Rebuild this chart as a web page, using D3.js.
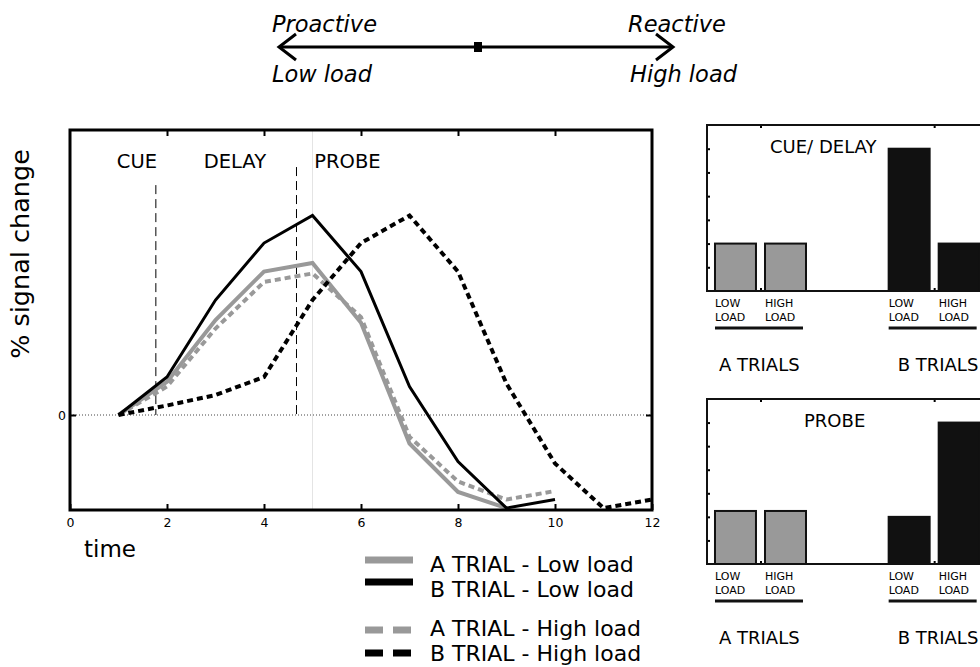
<!DOCTYPE html>
<meta charset="utf-8">
<style>
body { margin: 0; background: #fff; }
text { font-family: "DejaVu Sans", sans-serif; fill: #000; }
</style>
<body>
<script src="https://cdn.jsdelivr.net/npm/d3@7"></script>
<script>

// time course data (% signal change), one value per time point starting at t=1
var aLow  = [0, 0.35, 1.00, 1.51, 1.60, 0.97, -0.30, -0.81, -0.98];
var bLow  = [0, 0.40, 1.21, 1.81, 2.10, 1.51, 0.30, -0.49, -0.98, -0.89];
var aHigh = [0, 0.30, 0.91, 1.40, 1.49, 1.03, -0.23, -0.70, -0.89, -0.80];
var bHigh = [0, 0.10, 0.21, 0.40, 1.21, 1.81, 2.10, 1.51, 0.33, -0.51, -0.98, -0.89];

// phase boundaries (time) and how high the dashed marker goes
var phaseNames = ["CUE", "DELAY", "PROBE"];
var phaseX = [1.38, 3.4, 5.72];
var boundaries = [{t: 1.77, top: 2.42}, {t: 4.67, top: 2.61}];

var xTicks = [0, 2, 4, 6, 8, 10, 12];

// bar panels
var barLabels = ["A low", "A high", "B low", "B high"];
var cueDelay = [2, 2, 6, 2];
var probe    = [2.25, 2.25, 2, 6];

var gray = "#999";

var svg = d3.select("body").append("svg")
    .attr("width", 980)
    .attr("height", 667);

// ---------- top arrow ----------
var header = svg.append("g");
header.append("line").attr("x1", 279).attr("x2", 672).attr("y1", 47).attr("y2", 47)
    .attr("stroke", "#000").attr("stroke-width", 3);
header.append("path").attr("d", "M296,34 L279,47 L296,60").attr("fill", "none")
    .attr("stroke", "#000").attr("stroke-width", 3);
header.append("path").attr("d", "M656,34 L673,47 L656,60").attr("fill", "none")
    .attr("stroke", "#000").attr("stroke-width", 3);
header.append("rect").attr("x", 474).attr("y", 42).attr("width", 8).attr("height", 10).attr("fill", "#000");
[["Proactive", 272, 32], ["Low load", 272, 82], ["Reactive", 628, 32], ["High load", 630, 82]].forEach(function(d) {
  header.append("text").attr("x", d[1]).attr("y", d[2]).style("font-size", "22.5px")
      .style("font-style", "italic").text(d[0]);
});

// ---------- main line chart ----------
var x = d3.scaleLinear().domain([0, 12]).range([70, 652]);
var y = d3.scaleLinear().domain([-1, 3]).range([510, 130]);

var main = svg.append("g");

// zero line
main.append("line").attr("x1", x(0)).attr("x2", x(12)).attr("y1", y(0)).attr("y2", y(0))
    .attr("stroke", "#444").attr("stroke-width", 1).attr("stroke-dasharray", "1,2");

// faint line at probe onset
main.append("line").attr("x1", x(5)).attr("x2", x(5)).attr("y1", y(3)).attr("y2", y(-1))
    .attr("stroke", "#e4e4e4").attr("stroke-width", 1);

boundaries.forEach(function(b) {
  main.append("line").attr("x1", x(b.t)).attr("x2", x(b.t)).attr("y1", y(b.top)).attr("y2", y(0))
      .attr("stroke", "#000").attr("stroke-width", 1).attr("stroke-dasharray", "9,5");
});

phaseNames.forEach(function(p, i) {
  main.append("text").attr("x", x(phaseX[i])).attr("y", 168).attr("text-anchor", "middle")
      .style("font-size", "19.5px").text(p);
});

var line = d3.line()
    .x(function(d, i) { return x(i + 1); })
    .y(function(d) { return y(d); });

var series = [
  {v: aLow,  c: gray,   w: 4,   dash: null},
  {v: aHigh, c: gray,   w: 4,   dash: "6,4"},
  {v: bLow,  c: "#000", w: 3,   dash: null},
  {v: bHigh, c: "#000", w: 4,   dash: "6,4"}
];
series.forEach(function(s) {
  main.append("path").datum(s.v).attr("d", line)
      .attr("fill", "none").attr("stroke", s.c).attr("stroke-width", s.w)
      .attr("stroke-dasharray", s.dash);
});

// axes, ticks drawn inward
var ax = d3.axisBottom(x).tickValues(xTicks).tickSize(-6).tickPadding(8);
var gx = main.append("g").attr("transform", "translate(0," + y(-1) + ")").call(ax);
var axTop = d3.axisTop(x).tickValues([2, 4, 6, 8, 10]).tickSize(-6).tickFormat("");
main.append("g").attr("transform", "translate(0," + y(3) + ")").call(axTop);
var ay = d3.axisLeft(y).tickValues([0]).tickFormat(d3.format("d")).tickSize(-6).tickPadding(4);
var gy = main.append("g").attr("transform", "translate(" + x(0) + ",0)").call(ay);
main.append("g").attr("transform", "translate(" + x(12) + ",0)")
    .call(d3.axisRight(y).tickValues([0]).tickSize(-6).tickFormat(""));
main.selectAll(".domain").remove();
main.selectAll(".tick line").attr("stroke-width", 2);
main.selectAll(".tick text").attr("font-family", null).attr("font-size", null)
    .style("font-size", "12.5px").style("font-family", "DejaVu Sans");
main.append("rect").attr("x", x(0)).attr("y", y(3)).attr("width", x(12) - x(0)).attr("height", y(-1) - y(3))
    .attr("fill", "none").attr("stroke", "#000").attr("stroke-width", 3);

svg.append("text").attr("transform", "translate(29,254) rotate(-90)").attr("text-anchor", "middle")
    .style("font-size", "25.5px").text("% signal change");
svg.append("text").attr("x", 84).attr("y", 557).style("font-size", "23px").text("time");

// legend
var legend = [
  {name: "A TRIAL - Low load",  c: gray,   dash: null,    y: 560, ty: 572},
  {name: "B TRIAL - Low load",  c: "#000", dash: null,    y: 582, ty: 597},
  {name: "A TRIAL - High load", c: gray,   dash: "18,10", y: 630, ty: 636},
  {name: "B TRIAL - High load", c: "#000", dash: "18,10", y: 653, ty: 661}
];
legend.forEach(function(l) {
  svg.append("line").attr("x1", 365).attr("x2", 413).attr("y1", l.y).attr("y2", l.y)
      .attr("stroke", l.c).attr("stroke-width", 7).attr("stroke-dasharray", l.dash);
  svg.append("text").attr("x", 430).attr("y", l.ty).style("font-size", "22px").text(l.name);
});

// ---------- bar panels ----------
function barPanel(vals, title, topY, botY, titleX) {
  var g = svg.append("g");
  var bx = d3.scaleLinear().domain([0.692, 2.31]).range([707, 988]);
  var by = d3.scaleLinear().domain([0, 7]).range([botY, topY]);
  var groups = [1, 1, 2, 2];
  var offs = [-0.144, 0.144, -0.144, 0.144];
  var bw = bx(0.236) - bx(0);

  g.selectAll("rect.bar").data(vals).enter().append("rect")
      .attr("class", "bar")
      .attr("x", function(d, i) { return bx(groups[i] + offs[i]) - bw / 2; })
      .attr("y", function(d) { return by(d); })
      .attr("width", bw)
      .attr("height", function(d) { return by(0) - by(d); })
      .attr("fill", function(d, i) { return groups[i] === 1 ? gray : "#111"; })
      .attr("stroke", "#111").attr("stroke-width", 2);

  g.append("g").attr("transform", "translate(707,0)")
      .call(d3.axisLeft(by).tickValues([1, 2, 3, 4, 5, 6]).tickSize(-3).tickFormat(""));
  g.append("g").attr("transform", "translate(0," + botY + ")")
      .call(d3.axisBottom(bx).tickValues([1, 2]).tickSize(-3).tickFormat(""));
  g.append("g").attr("transform", "translate(0," + topY + ")")
      .call(d3.axisTop(bx).tickValues([1, 2]).tickSize(-3).tickFormat(""));
  g.selectAll(".domain").remove();
  g.selectAll(".tick line").attr("stroke-width", 2);
  g.append("path").attr("d", "M990," + topY + "H707V" + botY + "H990")
      .attr("fill", "none").attr("stroke", "#111").attr("stroke-width", 2);

  g.append("text").attr("x", titleX).attr("y", topY + 28).style("font-size", "18px").text(title);

  vals.forEach(function(d, i) {
    var cx = bx(groups[i] + offs[i]) - bw / 2;
    g.append("text").attr("x", cx).attr("y", botY + 16).style("font-size", "11px")
        .text(i % 2 === 0 ? "LOW" : "HIGH");
    g.append("text").attr("x", cx).attr("y", botY + 30).style("font-size", "11px").text("LOAD");
  });
  [1, 2].forEach(function(gi) {
    var x0 = bx(gi - 0.144) - bw / 2;
    g.append("line").attr("x1", x0).attr("x2", x0 + 88).attr("y1", botY + 37).attr("y2", botY + 37)
        .attr("stroke", "#111").attr("stroke-width", 3);
    g.append("text").attr("x", x0 + (gi === 1 ? 4 : 9)).attr("y", botY + 80).style("font-size", "18px")
        .text(gi === 1 ? "A TRIALS" : "B TRIALS");
  });
}

barPanel(cueDelay, "CUE/ DELAY", 125, 291, 770);
barPanel(probe, "PROBE", 399, 564, 804);

</script>
</body>
